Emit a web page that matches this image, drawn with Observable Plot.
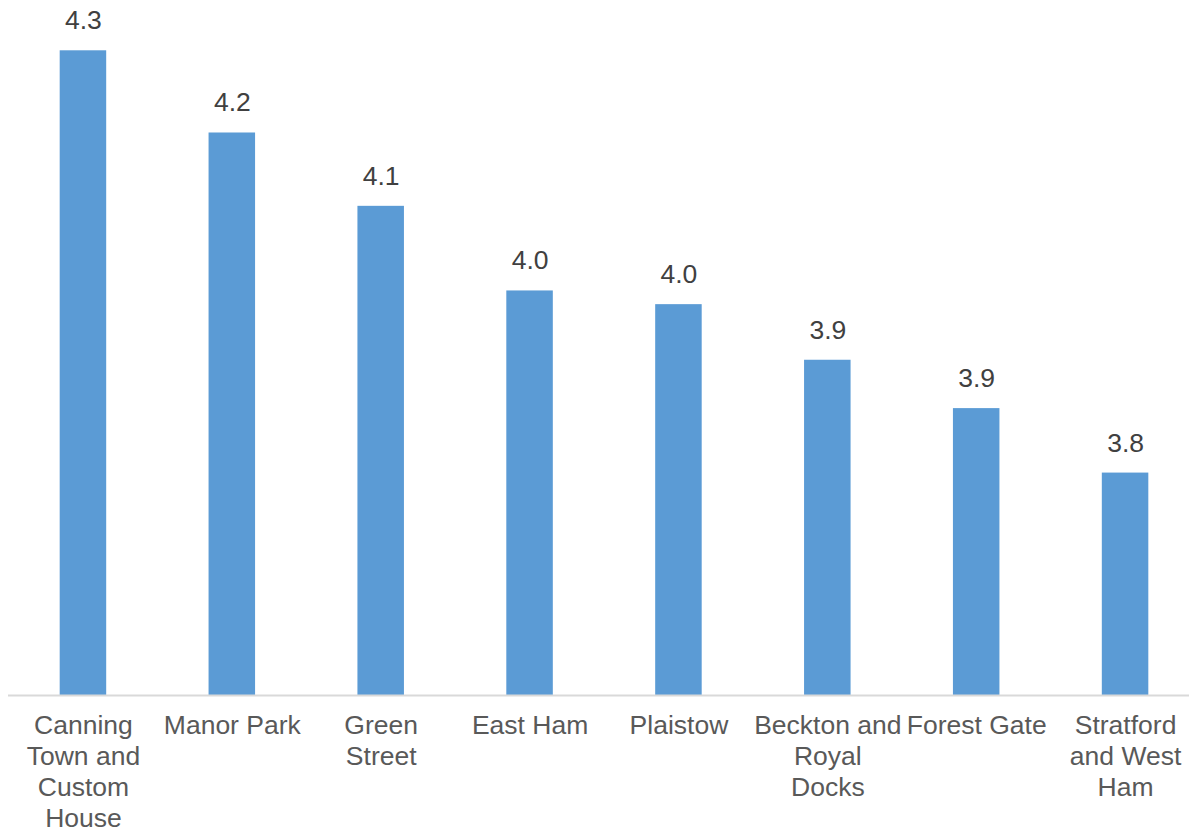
<!DOCTYPE html>
<html>
<head>
<meta charset="utf-8">
<script src="https://cdn.jsdelivr.net/npm/d3@7"></script>
<script src="https://cdn.jsdelivr.net/npm/@observablehq/plot@0.6"></script>
<style>
  html, body { margin: 0; padding: 0; background: #ffffff; }
  #chart svg { display: block; overflow: visible; }
</style>
</head>
<body>
<div id="chart"></div>
<script>
const categories = [
  "Canning Town and Custom House",
  "Manor Park",
  "Green Street",
  "East Ham",
  "Plaistow",
  "Beckton and Royal Docks",
  "Forest Gate",
  "Stratford and West Ham"
];
const tickLabels = [
  "Canning\nTown and\nCustom\nHouse",
  "Manor Park",
  "Green\nStreet",
  "East Ham",
  "Plaistow",
  "Beckton and\nRoyal\nDocks",
  "Forest Gate",
  "Stratford\nand West\nHam"
];
const values = [4.30, 4.198, 4.107, 4.002, 3.985, 3.916, 3.856, 3.776];

const data = categories.map((c, i) => ({category: c, value: values[i]}));
const labelOf = new Map(categories.map((c, i) => [c, tickLabels[i]]));

const chart = Plot.plot({
  width: 1189,
  height: 829,
  marginLeft: 8,
  marginRight: 0,
  marginTop: 10,
  marginBottom: 134,
  style: {fontFamily: "'Liberation Sans', Arial, sans-serif", background: "#ffffff"},
  x: {
    domain: categories,
    range: [8.5, 1199.5],
    paddingInner: 0.6876,
    paddingOuter: 0.3438,
    round: false,
    label: null
  },
  y: {
    domain: [3.5, 4.35],
    range: [695, 10],
    axis: null
  },
  marks: [
    Plot.barY(data, {x: "category", y1: 3.5, y2: "value", fill: "#5B9BD5"}),
    Plot.ruleY([3.5], {stroke: "#D9D9D9", strokeWidth: 2}),
    Plot.text(data, {
      x: "category",
      y: "value",
      text: d => d.value.toFixed(1),
      dy: -30,
      fontSize: 26.5,
      fill: "#404040"
    }),
    Plot.axisX({
      tickSize: 0,
      tickPadding: 16,
      fontSize: 26.5,
      lineHeight: 31 / 26.5,
      fill: "#595959",
      tickFormat: d => labelOf.get(d),
      label: null
    })
  ]
});
document.getElementById("chart").appendChild(chart);
</script>
</body>
</html>
